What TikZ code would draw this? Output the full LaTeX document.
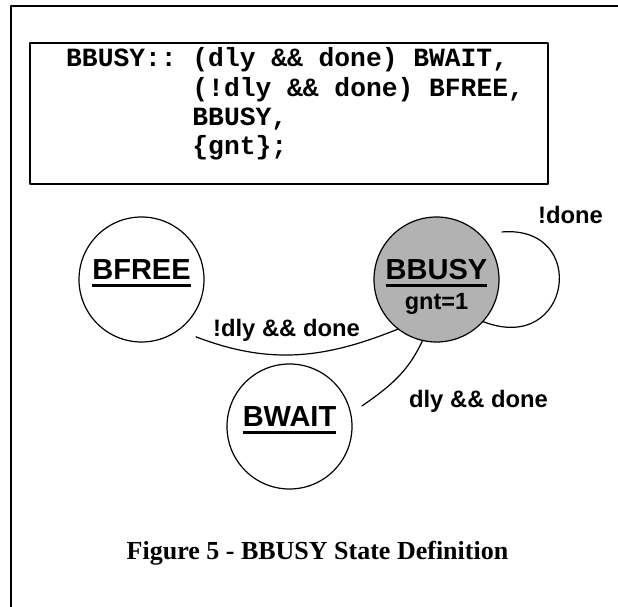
\documentclass[tikz,border=0pt]{standalone}
\usepackage{fontspec}
\setmainfont{Liberation Serif}
\setsansfont{Liberation Sans}
\setmonofont{Liberation Mono}
\usetikzlibrary{calc}
\newcommand\ulname[1]{\setbox0\hbox{#1}\rlap{\rule[-7.5pt]{\wd0}{3pt}}\box0}
\begin{document}
\begin{tikzpicture}[x=1pt,y=1pt,line join=round,line cap=round,
	state/.style={draw,circle,line width=1.2pt,minimum size=125pt,inner sep=0pt},
	stname/.style={font=\sffamily\bfseries\fontsize{29}{29}\selectfont,anchor=base,inner sep=0pt},
	cond/.style={font=\sffamily\bfseries\fontsize{23.8}{24}\selectfont,anchor=base,inner sep=0pt},
	code/.style={font=\ttfamily\bfseries\fontsize{26.3}{29.3}\selectfont,anchor=base west,inner sep=0pt}]
	\useasboundingbox (0,0) rectangle (618,607);
	% frame and code box
	\draw[line width=1.5pt] (11,0) |- (618,601);
	\draw[line width=1.6pt] (30,423) rectangle (548,564);
	\foreach \t [count=\i from 0] in {{BBUSY:: (dly \&\& done) BWAIT,},{\hphantom{BBUSY:: }(!dly \&\& done) BFREE,},{\hphantom{BBUSY:: }BBUSY,},{\hphantom{BBUSY:: }\{gnt\};}}
		\node[code] (code\i) at (66,540-29.3*\i) {\t};
	% states
	\node[state] (BFREE) at (141.5,327.5) {};
	\node[state,fill=black!30] (BBUSY) at (436.5,327.5) {};
	\node[state] (BWAIT) at (289.5,180.5) {};
	\foreach \s in {BFREE,BBUSY,BWAIT}\node[stname] (\s-name) at (\s) {\ulname{\s}};
	\node[cond,font=\sffamily\bfseries\fontsize{23.5}{24}\selectfont] (BBUSY-out) at ($(BBUSY)+(0,-30.5)$) {gnt=1};
	% transitions
	\coordinate (BFREE-in) at ($(BFREE)+(-46.5:79)$);
	\coordinate (BWAIT-in) at ($(BWAIT)+(15.8:75.3)$);
	\coordinate (BBUSY-loop) at ($(BBUSY)+(36:80.9)$);
	\draw[line width=1.2pt] (BFREE-in) to[out=-21,in=-158] (BBUSY.-128);
	\draw[line width=1.2pt] (BBUSY.-103) to[out=-115,in=35] (BWAIT-in);
	\draw[line width=1.2pt] (BBUSY-loop) .. controls +(88,7) and +(88,-34) .. (BBUSY.-42.5);
	\node[cond] (to-free) at (286.5,270) {!dly \&\& done};
	\node[cond] (to-wait) at (478.5,199) {dly \&\& done};
	\node[cond] (to-busy) at (570.5,383) {!done};
	% caption
	\node[font=\rmfamily\bfseries\fontsize{26}{26}\selectfont,anchor=base] (caption) at (317.5,47) {Figure 5 - BBUSY State Definition};
\end{tikzpicture}
\end{document}
